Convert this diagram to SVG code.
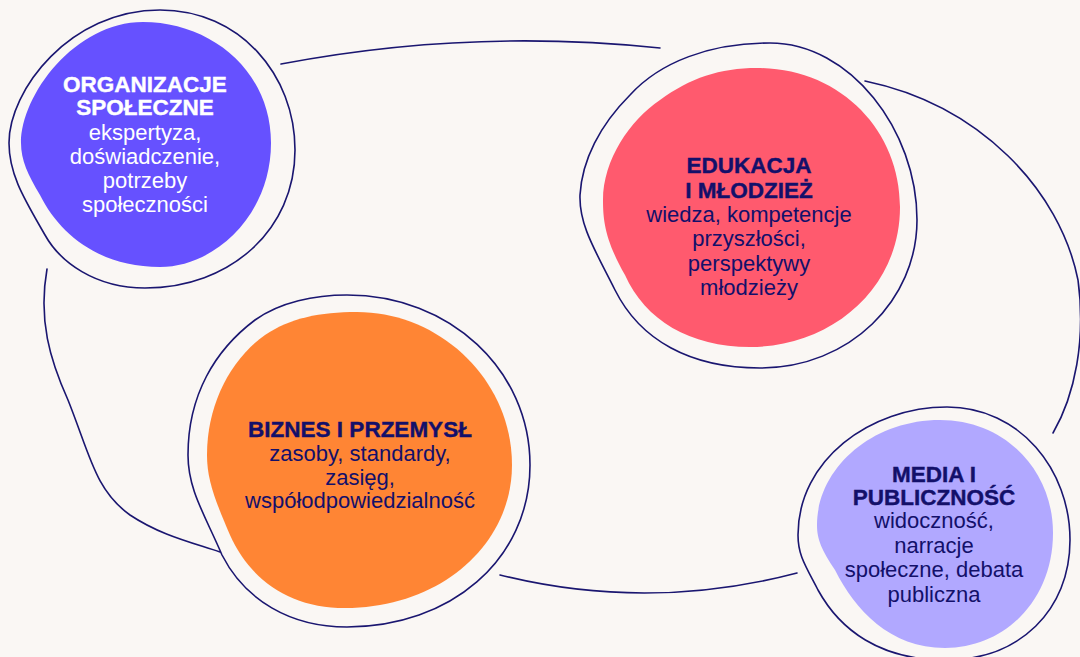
<svg xmlns="http://www.w3.org/2000/svg" width="1080" height="657" viewBox="0 0 1080 657">
<style>
.bg{fill:#faf7f4}
.ring{fill:none;stroke:#1a1670;stroke-width:1.6}
.con{fill:none;stroke:#1a1670;stroke-width:1.6;stroke-linecap:round}
.t{font-family:"Liberation Sans",Arial,sans-serif;text-anchor:middle}
.h{font-weight:bold;font-size:22.5px}
.b{font-size:22px}
.w{fill:#ffffff}
.n{fill:#13106a}
.hn{stroke:#13106a;stroke-width:0.4}
.hw{stroke:#ffffff;stroke-width:0.4}
</style>
<rect class="bg" x="0" y="0" width="1080" height="657"/>
<g id="connectors">
<path class="con" d="M 281,64 Q 470,28 660,48"/>
<path class="con" d="M 865,81 C 980,105 1060,190 1078,280 C 1086,340 1075,395 1053,433"/>
<path class="con" d="M 500,575 Q 648,612 797,573"/>
<path class="con" d="M 47,269 C 38,320 50,360 68,400 C 90,455 95,490 130,515 C 160,535 190,542 220,552"/>
</g>
<g id="node-organizacje">
<path class="ring" d="M 9,143 C 9,90 70,10 160,10 C 240,10 295,75 295,150 C 295,230 230,288 145,288 C 95,288 60,262 45,235 C 25,200 9,175 9,143 Z"/>
<path fill="#6651ff" d="M 21,143 C 21,95 75,22 143,22 C 210,22 271,70 271,143 C 271,215 215,267 160,267 C 100,267 60,235 40,195 C 28,175 21,160 21,143 Z"/>
<text class="t h w hw" x="145" y="92">ORGANIZACJE</text>
<text class="t h w hw" x="145" y="115">SPOŁECZNE</text>
<text class="t b w" x="145" y="140">ekspertyza,</text>
<text class="t b w" x="145" y="164">doświadczenie,</text>
<text class="t b w" x="145" y="188">potrzeby</text>
<text class="t b w" x="145" y="212">społeczności</text>
</g>
<g id="node-edukacja">
<path class="ring" d="M 770,43 C 850,43 917,130 917,220 C 917,300 850,368 760,368 C 690,368 640,340 615,290 C 595,250 579,225 580,195 C 582,160 600,125 630,95 C 660,62 710,43 770,43 Z"/>
<path fill="#ff5a6e" d="M 757,68 C 840,68 900,130 900,207 C 900,290 830,347 750,347 C 690,347 645,320 625,275 C 605,240 603,220 603,200 C 603,160 630,120 660,100 C 690,78 720,68 757,68 Z"/>
<text class="t h n hn" x="749" y="173">EDUKACJA</text>
<text class="t h n hn" x="749" y="198">I MŁODZIEŻ</text>
<text class="t b n" x="749" y="222">wiedza, kompetencje</text>
<text class="t b n" x="749" y="246">przyszłości,</text>
<text class="t b n" x="749" y="271">perspektywy</text>
<text class="t b n" x="749" y="295">młodzieży</text>
</g>
<g id="node-biznes">
<path class="ring" d="M 347,295 C 450,295 530,370 530,465 C 530,560 450,627 347,627 C 290,627 245,600 222,555 C 205,515 188,490 188,455 C 188,395 215,350 255,320 C 280,302 315,295 347,295 Z"/>
<path fill="#ff8534" d="M 357,312 C 440,312 512,380 512,465 C 512,545 440,608 345,608 C 290,608 250,580 230,535 C 215,500 207,480 207,455 C 207,405 230,360 265,335 C 290,318 320,312 357,312 Z"/>
<text class="t h n hn" x="360" y="437">BIZNES I PRZEMYSŁ</text>
<text class="t b n" x="360" y="461">zasoby, standardy,</text>
<text class="t b n" x="360" y="485">zasięg,</text>
<text class="t b n" x="360" y="508">współodpowiedzialność</text>
</g>
<g id="node-media">
<path class="ring" d="M 947,407 C 1020,407 1070,470 1070,540 C 1070,610 1020,660 945,660 C 880,660 840,630 818,590 C 805,565 798,555 798,535 C 798,460 870,407 947,407 Z"/>
<path fill="#b1a8ff" d="M 940,420 C 1005,420 1053,470 1053,533 C 1053,600 1005,648 945,648 C 890,648 855,610 835,570 C 822,550 817,540 817,525 C 817,470 870,420 940,420 Z"/>
<text class="t h n hn" x="934" y="482">MEDIA I</text>
<text class="t h n hn" x="934" y="505">PUBLICZNOŚĆ</text>
<text class="t b n" x="934" y="528">widoczność,</text>
<text class="t b n" x="934" y="553">narracje</text>
<text class="t b n" x="934" y="577">społeczne, debata</text>
<text class="t b n" x="934" y="602">publiczna</text>
</g>
</svg>
